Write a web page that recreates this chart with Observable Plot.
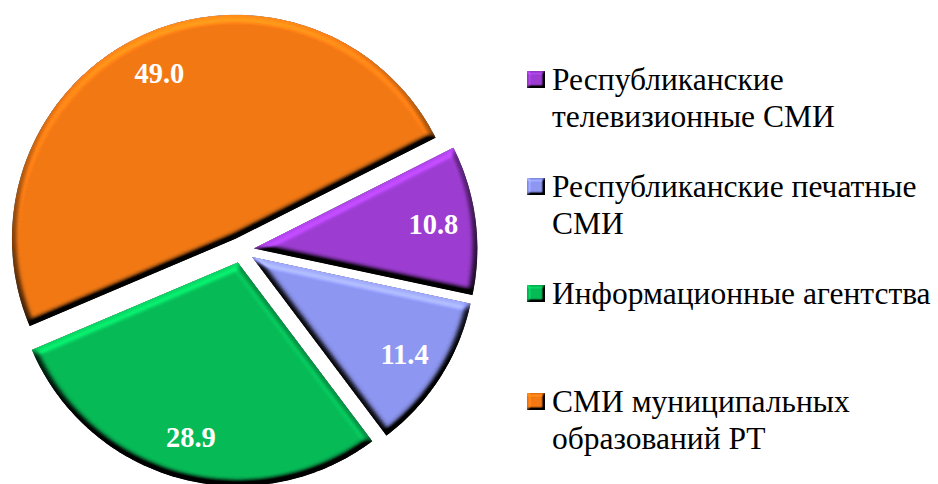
<!DOCTYPE html>
<html>
<head>
<meta charset="utf-8">
<style>
  html, body { margin: 0; padding: 0; background: #fff; }
  #wrap { position: relative; width: 938px; height: 484px; overflow: hidden; }
  #chart { position: absolute; left: 0; top: 0; }
  .lib { font-family: 'Liberation Serif', 'Times New Roman', serif; }
  .item { position: absolute; left: 527px; font-size: 31.5px; line-height: 36.5px; color: #000; }
  .item .sw { position: absolute; left: 0; top: 9px; width: 18px; height: 17px; }
  .item .tx { position: absolute; left: 25px; top: 0; white-space: nowrap; }
</style>
</head>
<body>
<div id="wrap" class="lib">
  <div id="chart"></div>
  <div id="legend">
    <div class="item lib" style="top:62px"><svg class="sw" width="18" height="17"><rect width="18" height="17" fill="#9B3CCF" filter="url(#bevelSw)"/></svg><div class="tx lib">Республиканские<br>телевизионные СМИ</div></div>
    <div class="item lib" style="top:169px"><svg class="sw" width="18" height="17"><rect width="18" height="17" fill="#8C95EF" filter="url(#bevelSw)"/></svg><div class="tx lib">Республиканские печатные<br>СМИ</div></div>
    <div class="item lib" style="top:276px"><svg class="sw" width="18" height="17"><rect width="18" height="17" fill="#06BA56" filter="url(#bevelSw)"/></svg><div class="tx lib">Информационные агентства</div></div>
    <div class="item lib" style="top:384px"><svg class="sw" width="18" height="17"><rect width="18" height="17" fill="#F17814" filter="url(#bevelSw)"/></svg><div class="tx lib">СМИ муниципальных<br>образований РТ</div></div>
  </div>
</div>
<script src="https://cdn.jsdelivr.net/npm/d3@7"></script>
<script src="https://cdn.jsdelivr.net/npm/@observablehq/plot@0.6"></script>
<script>
// ---- data ----
const categories = [
  "Республиканские телевизионные СМИ",
  "Республиканские печатные СМИ",
  "Информационные агентства",
  "СМИ муниципальных образований РТ"
];
const values = [10.8, 11.4, 28.9, 49.0];
const valueLabels = ["10.8", "11.4", "28.9", "49.0"];
const colors = ["#9B3CCF", "#8C95EF", "#06BA56", "#F17814"];

// ---- layout ----
const W = 500, H = 484;
const cx = 240.6, cy = 249.6, R = 224;
const explode = 12.5 / R;
const startDeg = 63.2;
const labelR = 0.81;
const FONT = "Liberation Serif";
const ns = "http://www.w3.org/2000/svg";

const pie = d3.pie().sort(null).value(d => d.value)
  .startAngle(startDeg * Math.PI / 180)
  .endAngle(startDeg * Math.PI / 180 + 2 * Math.PI);
const rows = categories.map((c, i) => ({category: c, value: values[i], label: valueLabels[i]}));
const arcs = pie(rows);

const pts = [];
const labels = [];
arcs.forEach(a => {
  const mid = (a.startAngle + a.endAngle) / 2;
  const ox = explode * Math.sin(mid), oy = explode * Math.cos(mid);
  pts.push({category: a.data.category, x: ox, y: oy});
  const n = Math.max(8, Math.ceil((a.endAngle - a.startAngle) / (Math.PI / 180)));
  for (let k = 0; k <= n; k++) {
    const t = a.startAngle + (a.endAngle - a.startAngle) * k / n;
    pts.push({category: a.data.category, x: ox + Math.sin(t), y: oy + Math.cos(t)});
  }
  labels.push({label: a.data.label, x: ox + labelR * Math.sin(mid), y: oy + labelR * Math.cos(mid)});
});

const plot = Plot.plot({
  width: W, height: H,
  margin: 0,
  x: {domain: [-cx / R, (W - cx) / R], axis: null},
  y: {domain: [-(H - cy) / R, cy / R], axis: null},
  color: {domain: categories, range: colors},
  style: {background: "transparent", overflow: "visible", fontFamily: FONT},
  marks: [
    Plot.line(pts, {x: "x", y: "y", z: "category", fill: "category", stroke: "none", curve: "linear-closed"}),
    Plot.text(labels, {x: "x", y: "y", text: "label", fill: "white", fontSize: 28.5, fontWeight: "bold",
      fontFamily: FONT})
  ]
});

const defs = document.createElementNS(ns, "defs");
defs.innerHTML = `
<filter id="bevel" x="-10%" y="-10%" width="120%" height="120%" color-interpolation-filters="sRGB">
  <feGaussianBlur in="SourceAlpha" stdDeviation="3.5" result="blur"/>
  <feDiffuseLighting in="blur" surfaceScale="10" diffuseConstant="0.653" lighting-color="white" result="light">
    <feDistantLight azimuth="262" elevation="50"/>
  </feDiffuseLighting>
  <feComposite in="SourceGraphic" in2="light" operator="arithmetic" k1="2" k2="0" k3="0" k4="0" result="lit"/>
  <feComposite in="lit" in2="SourceAlpha" operator="in"/>
</filter>
<filter id="bevelSw" x="-10%" y="-10%" width="120%" height="120%" color-interpolation-filters="sRGB">
  <feGaussianBlur in="SourceAlpha" stdDeviation="1.6" result="blur"/>
  <feDiffuseLighting in="blur" surfaceScale="5" diffuseConstant="0.653" lighting-color="white" result="light">
    <feDistantLight azimuth="225" elevation="50"/>
  </feDiffuseLighting>
  <feComposite in="SourceGraphic" in2="light" operator="arithmetic" k1="2" k2="0" k3="0" k4="0" result="lit"/>
  <feComposite in="lit" in2="SourceAlpha" operator="in"/>
</filter>`;
plot.insertBefore(defs, plot.firstChild);
const lineG = plot.querySelector('g[aria-label="line"]');
if (lineG) lineG.setAttribute("filter", "url(#bevel)");

document.getElementById("chart").appendChild(plot);
</script>
</body>
</html>
